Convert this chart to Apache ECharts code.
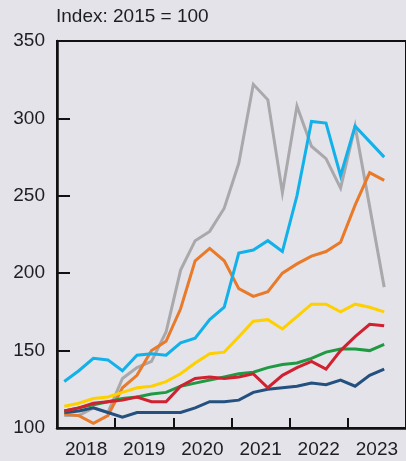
<!DOCTYPE html>
<html>
<head>
<meta charset="utf-8">
<script src="https://cdn.jsdelivr.net/npm/echarts@6/dist/echarts.min.js"></script>
<style>
html,body{margin:0;padding:0;background:#e3e3e9;}
#chart{width:406px;height:461px;}
</style>
</head>
<body>
<div id="chart"></div>
<script>
// Year labels and quarterly periods (Q1 2018 .. Q4 2023)
var years = ['2018','2019','2020','2021','2022','2023'];
var quarters = [];
years.forEach(function(y){ for (var q=1;q<=4;q++) quarters.push(y+'Q'+q); });

// Series values (Index: 2015 = 100), Q1 2018 .. Q3 2023
var greySeries   = [108,108,113,110,132,139,143,162,202,221,227,242,271,322,312,252,308,282,274,255,295,243,191];
var blueSeries   = [130,137,145,144,137,147,148,147,155,158,170,178,213,215,221,214,250,298,297,263,295,285,275];
var orangeSeries = [109,108,103,108,126,134,150,156,177,208,216,208,190,185,188,200,206,211,214,220,244,265,260];
var yellowSeries = [114,116,119,120,123,126,127,130,135,142,148,149,159,169,170,164,172,180,180,175,180,178,175];
var greenSeries  = [111,113,115,117,119,120,122,123,127,129,131,133,135,136,139,141,142,145,149,151,151,150,154];
var redSeries    = [111,113,116,117,118,120,117,117,127,132,133,132,133,135,126,134,139,143,138,150,159,167,166];
var navySeries   = [110,111,113,110,107,110,110,110,110,113,117,117,118,123,125,126,127,129,128,131,127,134,138];

var yTicks = [100,150,200,250,300,350];

var chart = echarts.init(document.getElementById('chart'));
var txt = '#1d1d24';
var fontFam = '"Liberation Sans", Arial, Helvetica, sans-serif';

function line(data, color, z) {
  return {
    type: 'line', data: data, xAxisIndex: 1, yAxisIndex: 0,
    symbol: 'none', smooth: false, z: z,
    lineStyle: { color: color, width: 3, join: 'miter' },
    itemStyle: { color: color }
  };
}

chart.setOption({
  backgroundColor: '#e3e3e9',
  animation: false,
  title: {
    text: 'Index: 2015 = 100',
    left: 56, top: 7, padding: 0,
    textStyle: { fontFamily: fontFam, fontSize: 19, fontWeight: 'normal', color: txt }
  },
  grid: {
    left: 57, top: 41, bottom: 33, right: -5,
    show: true, borderColor: '#111', borderWidth: 2, backgroundColor: 'transparent'
  },
  xAxis: [
    {
      type: 'category', data: years, boundaryGap: true, position: 'bottom',
      axisLine: { show: true, lineStyle: { color: '#111', width: 2.5 } },
      axisTick: { show: true, inside: true, length: 10, lineStyle: { color: '#111', width: 2 } },
      axisLabel: { color: txt, fontFamily: fontFam, fontSize: 19, margin: 12 },
      splitLine: { show: false }
    },
    {
      type: 'category', data: quarters, boundaryGap: true, show: false
    }
  ],
  yAxis: {
    type: 'value', min: yTicks[0], max: yTicks[yTicks.length-1], interval: 50,
    axisLine: { show: true, lineStyle: { color: '#111', width: 2.5 } },
    axisTick: { show: true, inside: true, length: 13, lineStyle: { color: '#111', width: 2 } },
    axisLabel: { color: txt, fontFamily: fontFam, fontSize: 19, margin: 12 },
    splitLine: { show: false }
  },
  series: [
    line(greySeries,   '#a9a9ab', 2),
    line(orangeSeries, '#e87a2a', 3),
    line(navySeries,   '#23507f', 4),
    line(greenSeries,  '#1f9a42', 5),
    line(redSeries,    '#d1202f', 6),
    line(yellowSeries, '#ffd000', 7),
    line(blueSeries,   '#12b1ea', 8)
  ]
});
</script>
</body>
</html>
